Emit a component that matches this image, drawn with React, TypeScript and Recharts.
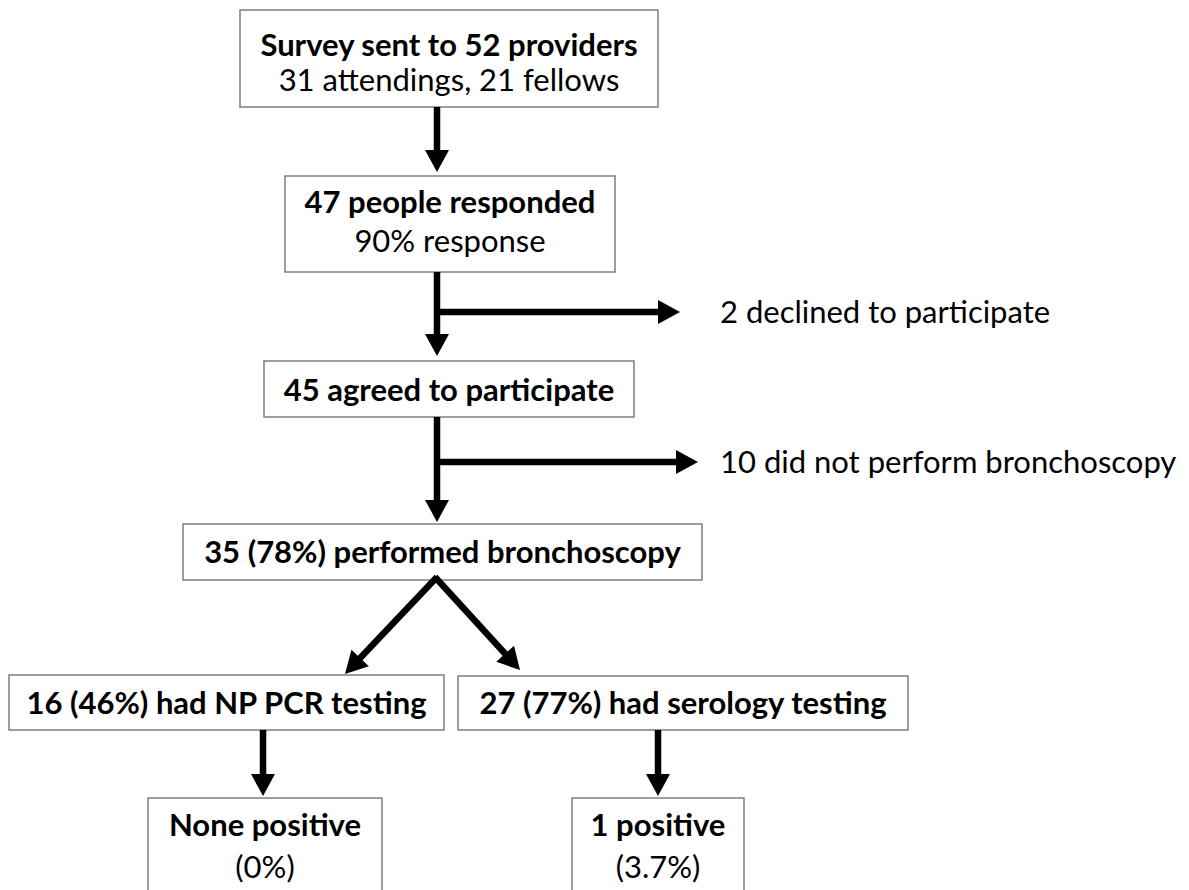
import { ScatterChart, Scatter, XAxis, YAxis, ReferenceArea, ReferenceLine } from "recharts";

const W = 1189;
const H = 890;

// flow steps, top to bottom
const stepTitles = [
  "Survey sent to 52 providers",
  "47 people responded",
  "45 agreed to participate",
  "35 (78%) performed bronchoscopy",
  "16 (46%) had NP PCR testing",
  "27 (77%) had serology testing",
  "None positive",
  "1 positive",
];
const stepDetails = ["31 attendings, 21 fellows", "90% response", "", "", "", "", "(0%)", "(3.7%)"];
const exclusions = ["2 declined to participate", "10 did not perform bronchoscopy"];

// layout, in axis units (axes map 1:1 onto the page)
const boxes = [
  { x1: 240, x2: 658, y1: 10, y2: 107, ty: 44, dy: 79 },
  { x1: 285, x2: 615, y1: 176, y2: 272, ty: 201, dy: 240 },
  { x1: 264, x2: 634, y1: 361, y2: 417, ty: 389 },
  { x1: 183, x2: 702, y1: 524, y2: 580, ty: 551 },
  { x1: 9, x2: 444, y1: 675, y2: 730, ty: 702 },
  { x1: 458, x2: 908, y1: 676, y2: 730, ty: 702 },
  { x1: 148, x2: 382, y1: 798, y2: 900, ty: 824, dy: 866 },
  { x1: 572, x2: 744, y1: 798, y2: 900, ty: 824, dy: 866 },
];
const exclusionPos = [
  { x: 720, y: 311 },
  { x: 720, y: 461 },
];
const arrows = [
  { x1: 437, y1: 107, x2: 437, y2: 172 },
  { x1: 437, y1: 272, x2: 437, y2: 356 },
  { x1: 437, y1: 312, x2: 680, y2: 312 },
  { x1: 437, y1: 417, x2: 437, y2: 522 },
  { x1: 437, y1: 462, x2: 698, y2: 462 },
  { x1: 437, y1: 577, x2: 345, y2: 674 },
  { x1: 435, y1: 577, x2: 520, y2: 670 },
  { x1: 263, y1: 730, x2: 263, y2: 796 },
  { x1: 658, y1: 730, x2: 658, y2: 796 },
];

const HEAD = 22;
const HALF = 12;
const FONT = "Lato, 'Open Sans', sans-serif";
const SIZE = 31;

const labels = [
  ...boxes.map((b, i) => ({ x: (b.x1 + b.x2) / 2, y: b.ty, text: stepTitles[i], bold: true, anchor: "middle" })),
  ...boxes
    .map((b, i) => ({ x: (b.x1 + b.x2) / 2, y: b.dy ?? 0, text: stepDetails[i], bold: false, anchor: "middle" }))
    .filter((l) => l.text),
  ...exclusionPos.map((p, i) => ({ x: p.x, y: p.y, text: exclusions[i], bold: false, anchor: "start" })),
];

const heads = arrows.map((a) => {
  const len = Math.hypot(a.x2 - a.x1, a.y2 - a.y1);
  return { x: a.x2, y: a.y2, ux: (a.x2 - a.x1) / len, uy: (a.y2 - a.y1) / len };
});

const Label = (props: any) => {
  const { cx, cy, payload } = props;
  return (
    <text
      x={cx}
      y={cy}
      textAnchor={payload.anchor}
      dominantBaseline="central"
      fontFamily={FONT}
      fontWeight={payload.bold ? 700 : 400}
      fontSize={SIZE}
      fill="#000"
    >
      {payload.text}
    </text>
  );
};

const Head = (props: any) => {
  const { cx, cy, payload } = props;
  const { ux, uy } = payload;
  const bx = cx - ux * HEAD;
  const by = cy - uy * HEAD;
  const pts = [
    [cx, cy],
    [bx - uy * HALF, by + ux * HALF],
    [bx + uy * HALF, by - ux * HALF],
  ];
  return <polygon points={pts.map((p) => p.join(",")).join(" ")} fill="#000" />;
};

export default function App() {
  return (
    <div style={{ position: "absolute", left: 0, top: 0, width: W, height: H, background: "#fff" }}>
      <ScatterChart width={W} height={H} margin={{ top: 0, right: 0, bottom: 0, left: 0 }}>
        <XAxis type="number" dataKey="x" domain={[0, W]} hide allowDataOverflow />
        <YAxis type="number" dataKey="y" domain={[0, H]} reversed hide allowDataOverflow />
        {boxes.map((b, i) => (
          <ReferenceArea
            key={"b" + i}
            x1={b.x1}
            x2={b.x2}
            y1={b.y1}
            y2={b.y2}
            fill="none"
            stroke="#7f7f7f"
            strokeWidth={1.5}
            ifOverflow="visible"
          />
        ))}
        {arrows.map((a, i) => {
          const len = Math.hypot(a.x2 - a.x1, a.y2 - a.y1);
          const ex = a.x2 - ((a.x2 - a.x1) / len) * (HEAD - 2);
          const ey = a.y2 - ((a.y2 - a.y1) / len) * (HEAD - 2);
          return (
            <ReferenceLine
              key={"a" + i}
              segment={[
                { x: a.x1, y: a.y1 },
                { x: ex, y: ey },
              ]}
              stroke="#000"
              strokeWidth={6.5}
              ifOverflow="visible"
            />
          );
        })}
        <Scatter data={heads} shape={Head} isAnimationActive={false} />
        <Scatter data={labels} shape={Label} isAnimationActive={false} />
      </ScatterChart>
    </div>
  );
}
